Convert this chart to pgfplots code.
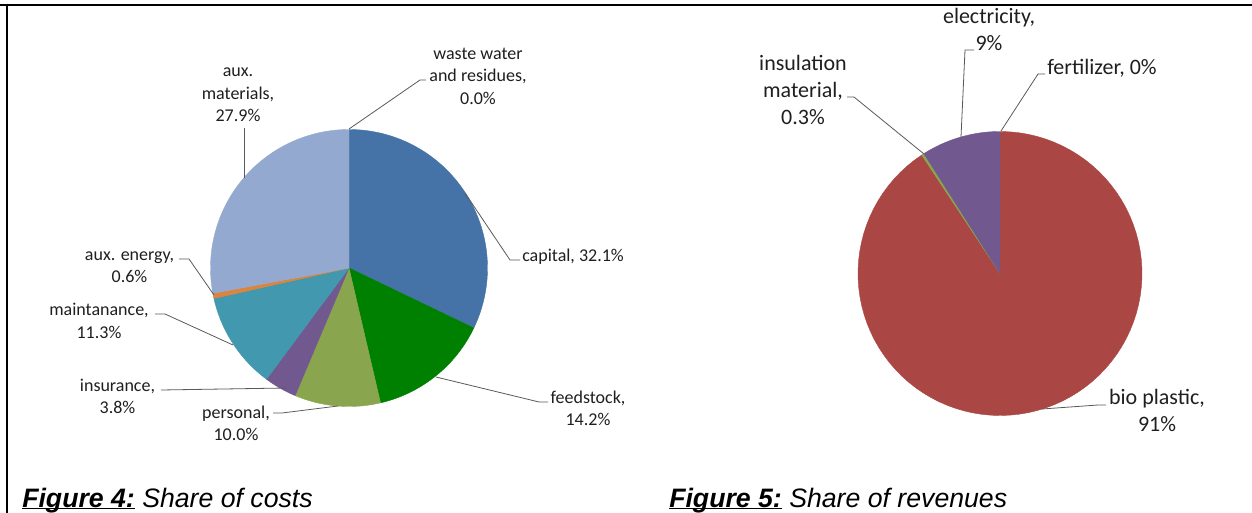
\documentclass[border=0pt]{standalone}
\usepackage{pgfplots}
\usepackage{pgfplotstable}
\pgfplotsset{compat=1.18}
\usepackage{fontspec}
\setmainfont{Carlito}
\newfontfamily\arialfont{Liberation Sans}
\definecolor{cCapital}{HTML}{4572A7}
\definecolor{cFeed}{HTML}{008000}
\definecolor{cPers}{HTML}{89A54E}
\definecolor{cIns}{HTML}{71588F}
\definecolor{cMaint}{HTML}{4198AF}
\definecolor{cAuxE}{HTML}{DB843D}
\definecolor{cAuxM}{HTML}{93A9CF}
\definecolor{cWaste}{HTML}{A8423F}
\definecolor{cBio}{HTML}{AA4643}
\definecolor{cInsul}{HTML}{89A54E}
\definecolor{cElec}{HTML}{71588F}
\definecolor{cFert}{HTML}{4198AF}

% clockwise from 12 o'clock
\pgfplotstableread[col sep=comma]{
name,value,color
capital,32.1,cCapital
feedstock,14.2,cFeed
personal,10.0,cPers
insurance,3.8,cIns
maintanance,11.3,cMaint
auxenergy,0.6,cAuxE
auxmaterials,27.9,cAuxM
wastewater,0.0,cWaste
}\costs

\pgfplotstableread[col sep=comma]{
name,value,color
bioplastic,90.7,cBio
insulation,0.3,cInsul
electricity,9.0,cElec
fertilizer,0.0,cFert
}\revenues

\newcommand\cum{0}
\newcommand\tot{0}
\newcommand{\drawpie}[4]{%
  \gdef\cum{0}\gdef\tot{0}%
  \pgfplotstablegetrowsof{#1}\pgfmathtruncatemacro\nrows{\pgfplotsretval-1}%
  \pgfplotsforeachungrouped \i in {0,...,\nrows}{%
    \pgfplotstablegetelem{\i}{value}\of{#1}\let\val\pgfplotsretval
    \pgfmathsetmacro\newtot{\tot+\val}\xdef\tot{\newtot}%
  }%
  \pgfmathsetmacro\fac{360/\tot}%
  \pgfplotsforeachungrouped \i in {0,...,\nrows}{%
    \pgfplotstablegetelem{\i}{value}\of{#1}\let\val\pgfplotsretval
    \pgfplotstablegetelem{\i}{color}\of{#1}\let\col\pgfplotsretval
    \pgfmathsetmacro\aStart{90-\fac*\cum}%
    \pgfmathsetmacro\aEnd{90-\fac*(\cum+\val)}%
    \pgfmathsetmacro\newcum{\cum+\val}\xdef\cum{\newcum}%
    \pgfmathtruncatemacro\pos{\val>0}%
    \ifnum\pos=1
      \edef\doplot{\noexpand\addplot[fill=\col, draw=\col, line width=0.3pt, domain=\aEnd:\aStart, samples=90, variable=\noexpand\t] ({#2+#4*cos(\noexpand\t)},{#3-#4*sin(\noexpand\t)}) -- (axis cs:#2,#3) -- cycle;}%
      \doplot
    \fi
  }%
}
\newcommand\ul[1]{\setbox0\hbox{#1}\rlap{\rule[-1.7pt]{\wd0}{1.1pt}}\box0\relax}

\begin{document}
\begin{tikzpicture}[
  lblA/.style={font=\fontsize{13.5}{16.9}\selectfont, align=center, text=black!88, inner sep=0pt},
  lblB/.style={font=\fontsize{16.5}{20.25}\selectfont, align=center, text=black!88, inner sep=0pt},
  leader/.style={draw=black!65, line width=0.6pt}]
\begin{axis}[x=0.75pt, y=0.75pt, xmin=0, xmax=1252, ymin=0, ymax=513, y dir=reverse,
  hide axis, clip=false, scale only axis, anchor=south west, at={(0,0)}]

\drawpie{\costs}{349}{268}{138.5}
\drawpie{\revenues}{1000}{273.5}{142}

% frame
\draw[line width=1.6pt] (axis cs:0,5) -- (axis cs:1252,5);
\draw[line width=1.6pt] (axis cs:7,4) -- (axis cs:7,513);

% leaders, costs
\draw[leader] (axis cs:349,129) -- (axis cs:420,80) -- (axis cs:426,80);
\draw[leader] (axis cs:244,128) -- (axis cs:244,178);
\draw[leader] (axis cs:465,193) -- (axis cs:510,260) -- (axis cs:520,260);
\draw[leader] (axis cs:436,377) -- (axis cs:539,402) -- (axis cs:548,402);
\draw[leader] (axis cs:338,406) -- (axis cs:282,413) -- (axis cs:273,413);
\draw[leader] (axis cs:286,388) -- (axis cs:161,390);
\draw[leader] (axis cs:233,345) -- (axis cs:165,314) -- (axis cs:155,314);
\draw[leader] (axis cs:214,295) -- (axis cs:189,259) -- (axis cs:179,259);

% labels, costs
\node[lblA] at (axis cs:478,76) {waste water\\and residues,\\0.0\%};
\node[lblA] at (axis cs:238,95) {aux.\\materials,\\27.9\%};
\node[lblA, anchor=west] at (axis cs:522,257) {capital, 32.1\%};
\node[lblA] at (axis cs:588,408.5) {feedstock,\\14.2\%};
\node[lblA] at (axis cs:236,423.5) {personal,\\10.0\%};
\node[lblA] at (axis cs:117.5,396.5) {insurance,\\3.8\%};
\node[lblA] at (axis cs:99,321) {maintanance,\\11.3\%};
\node[lblA] at (axis cs:129.5,267) {aux. energy,\\0.6\%};

% leaders, revenues
\draw[leader] (axis cs:961,137) -- (axis cs:965,50) -- (axis cs:974,50);
\draw[leader] (axis cs:1001,131) -- (axis cs:1038,74) -- (axis cs:1045,74);
\draw[leader] (axis cs:924,154) -- (axis cs:854,97) -- (axis cs:847,97);
\draw[leader] (axis cs:1042,409) -- (axis cs:1098,405) -- (axis cs:1106,405);

% labels, revenues
\node[lblB] at (axis cs:989,29.5) {electricity,\\9\%};
\node[lblB, anchor=west] at (axis cs:1047,68) {fertilizer, 0\%};
\node[lblB] at (axis cs:803,90) {insulation\\material,\\0.3\%};
\node[lblB] at (axis cs:1157,410.5) {bio plastic,\\91\%};

% captions
\node[anchor=base west, inner sep=0pt, font=\arialfont\fontsize{20}{24}\selectfont] at (axis cs:22,507)
  {\ul{\bfseries\itshape Figure 4:}\ \itshape Share of costs};
\node[anchor=base west, inner sep=0pt, font=\arialfont\fontsize{20}{24}\selectfont] at (axis cs:669,507)
  {\ul{\bfseries\itshape Figure 5:}\ \itshape Share of revenues};
\end{axis}
\pgfresetboundingbox
\path[use as bounding box] (0,0) rectangle (939pt,384.75pt);
\end{tikzpicture}
\end{document}
